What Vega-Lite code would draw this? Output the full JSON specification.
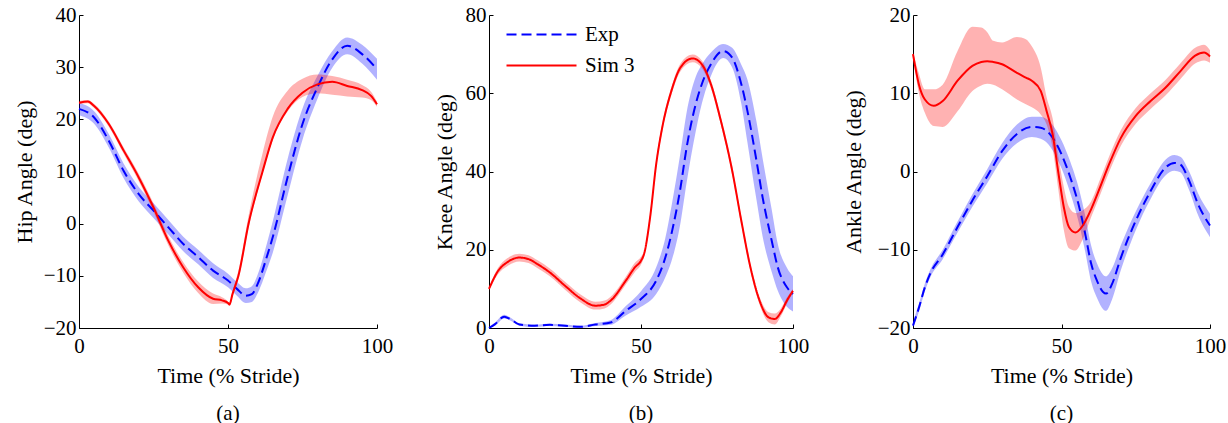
{
  "$schema": "https://vega.github.io/schema/vega-lite/v6.json",
  "padding": {"left": 13, "top": 4, "right": 5, "bottom": 5},
  "background": "white",
  "spacing": 33,
  "config": {
    "font": "Liberation Serif",
    "view": {"stroke": null},
    "axis": {
      "labelFont": "Liberation Serif", "titleFont": "Liberation Serif",
      "labelFontSize": 21, "titleFontSize": 22, "titleFontWeight": "normal",
      "labelColor": "#000", "titleColor": "#000", "domainColor": "#000", "tickColor": "#000",
      "domainWidth": 1, "tickWidth": 1, "grid": false, "tickSize": -4, "labelPadding": 7, "labelFlush": false
    },
    "axisX": {"titlePadding": 9, "labelPadding": 11},
    "axisY": {"titlePadding": 6},
    "title": {"font": "Liberation Serif", "fontSize": 21, "fontWeight": "normal", "color": "#000"},
    "legend": {"labelFont": "Liberation Serif", "labelFontSize": 21, "labelColor": "#000"}
  },
  "datasets": {
    "hip": [
      {"s": "Exp", "x": 0, "y": 22.0, "lo": 20.8, "hi": 23.2},
      {"s": "Exp", "x": 5, "y": 20.4, "lo": 19.2, "hi": 21.6},
      {"s": "Exp", "x": 10, "y": 15.9, "lo": 14.6, "hi": 17.2},
      {"s": "Exp", "x": 15, "y": 10.1, "lo": 8.7, "hi": 11.5},
      {"s": "Exp", "x": 20, "y": 5.7, "lo": 4.3, "hi": 7.1},
      {"s": "Exp", "x": 25, "y": 2.5, "lo": 1.1, "hi": 3.9},
      {"s": "Exp", "x": 30, "y": -0.7, "lo": -2.1, "hi": 0.7},
      {"s": "Exp", "x": 35, "y": -3.9, "lo": -5.3, "hi": -2.5},
      {"s": "Exp", "x": 40, "y": -6.4, "lo": -7.8, "hi": -5.0},
      {"s": "Exp", "x": 45, "y": -9.0, "lo": -10.4, "hi": -7.6},
      {"s": "Exp", "x": 50, "y": -10.9, "lo": -12.2, "hi": -9.6},
      {"s": "Exp", "x": 53, "y": -12.5, "lo": -13.8, "hi": -11.2},
      {"s": "Exp", "x": 56, "y": -13.8, "lo": -15.2, "hi": -12.4},
      {"s": "Exp", "x": 58, "y": -13.5, "lo": -15.0, "hi": -12.0},
      {"s": "Exp", "x": 60, "y": -11.5, "lo": -13.3, "hi": -9.7},
      {"s": "Exp", "x": 63, "y": -6.4, "lo": -8.9, "hi": -3.9},
      {"s": "Exp", "x": 65, "y": -2.6, "lo": -5.6, "hi": 0.4},
      {"s": "Exp", "x": 70, "y": 8.9, "lo": 5.4, "hi": 12.4},
      {"s": "Exp", "x": 75, "y": 19.1, "lo": 16.1, "hi": 22.1},
      {"s": "Exp", "x": 80, "y": 26.1, "lo": 23.9, "hi": 28.3},
      {"s": "Exp", "x": 85, "y": 31.5, "lo": 29.9, "hi": 33.1},
      {"s": "Exp", "x": 90, "y": 34.1, "lo": 32.5, "hi": 35.7},
      {"s": "Exp", "x": 95, "y": 32.5, "lo": 30.7, "hi": 34.3},
      {"s": "Exp", "x": 100, "y": 29.6, "lo": 27.6, "hi": 31.6},
      {"s": "Sim 3", "x": 0, "y": 23.2, "lo": 22.9, "hi": 23.5},
      {"s": "Sim 3", "x": 3, "y": 23.4, "lo": 23.1, "hi": 23.7},
      {"s": "Sim 3", "x": 5, "y": 22.6, "lo": 22.2, "hi": 23.0},
      {"s": "Sim 3", "x": 10, "y": 19.1, "lo": 18.6, "hi": 19.6},
      {"s": "Sim 3", "x": 15, "y": 14.0, "lo": 13.4, "hi": 14.6},
      {"s": "Sim 3", "x": 20, "y": 8.9, "lo": 8.2, "hi": 9.6},
      {"s": "Sim 3", "x": 25, "y": 3.1, "lo": 2.3, "hi": 3.9},
      {"s": "Sim 3", "x": 30, "y": -3.3, "lo": -4.2, "hi": -2.4},
      {"s": "Sim 3", "x": 35, "y": -8.4, "lo": -9.4, "hi": -7.4},
      {"s": "Sim 3", "x": 40, "y": -12.2, "lo": -13.3, "hi": -11.1},
      {"s": "Sim 3", "x": 45, "y": -14.4, "lo": -15.4, "hi": -13.4},
      {"s": "Sim 3", "x": 48, "y": -14.7, "lo": -15.3, "hi": -14.1},
      {"s": "Sim 3", "x": 50, "y": -15.2, "lo": -15.5, "hi": -14.9},
      {"s": "Sim 3", "x": 50.5, "y": -15.5, "lo": -15.8, "hi": -15.2},
      {"s": "Sim 3", "x": 51.5, "y": -13.5, "lo": -14.0, "hi": -13.0},
      {"s": "Sim 3", "x": 53.5, "y": -10.0, "lo": -10.6, "hi": -9.0},
      {"s": "Sim 3", "x": 56.9, "y": 0.0, "lo": -0.8, "hi": 1.5},
      {"s": "Sim 3", "x": 61.6, "y": 10.0, "lo": 9.5, "hi": 13.5},
      {"s": "Sim 3", "x": 65, "y": 16.5, "lo": 16.0, "hi": 20.5},
      {"s": "Sim 3", "x": 70, "y": 22.0, "lo": 21.5, "hi": 25.5},
      {"s": "Sim 3", "x": 75, "y": 25.1, "lo": 24.3, "hi": 27.8},
      {"s": "Sim 3", "x": 80, "y": 26.7, "lo": 25.0, "hi": 28.6},
      {"s": "Sim 3", "x": 85, "y": 27.2, "lo": 24.7, "hi": 28.3},
      {"s": "Sim 3", "x": 90, "y": 26.4, "lo": 24.4, "hi": 27.6},
      {"s": "Sim 3", "x": 95, "y": 25.6, "lo": 24.2, "hi": 26.6},
      {"s": "Sim 3", "x": 98, "y": 24.5, "lo": 23.7, "hi": 25.3},
      {"s": "Sim 3", "x": 100, "y": 22.9, "lo": 22.4, "hi": 23.4}
    ],
    "knee": [
      {"s": "Exp", "x": 0, "y": 0.0, "lo": 0.0, "hi": 0.3},
      {"s": "Exp", "x": 2, "y": 1.0, "lo": 0.6, "hi": 1.4},
      {"s": "Exp", "x": 5, "y": 2.9, "lo": 2.4, "hi": 3.4},
      {"s": "Exp", "x": 7, "y": 2.3, "lo": 1.9, "hi": 2.7},
      {"s": "Exp", "x": 10, "y": 0.9, "lo": 0.6, "hi": 1.2},
      {"s": "Exp", "x": 15, "y": 0.6, "lo": 0.3, "hi": 0.9},
      {"s": "Exp", "x": 20, "y": 0.8, "lo": 0.5, "hi": 1.1},
      {"s": "Exp", "x": 25, "y": 0.6, "lo": 0.3, "hi": 0.9},
      {"s": "Exp", "x": 30, "y": 0.3, "lo": 0.0, "hi": 0.6},
      {"s": "Exp", "x": 35, "y": 0.9, "lo": 0.5, "hi": 1.3},
      {"s": "Exp", "x": 40, "y": 1.4, "lo": 0.8, "hi": 2.0},
      {"s": "Exp", "x": 45, "y": 4.4, "lo": 3.2, "hi": 5.6},
      {"s": "Exp", "x": 50, "y": 7.4, "lo": 5.4, "hi": 9.4},
      {"s": "Exp", "x": 55, "y": 12.1, "lo": 8.7, "hi": 15.5},
      {"s": "Exp", "x": 58, "y": 18.0, "lo": 13.0, "hi": 23.0},
      {"s": "Exp", "x": 60, "y": 24.0, "lo": 17.0, "hi": 31.0},
      {"s": "Exp", "x": 63, "y": 35.9, "lo": 26.9, "hi": 44.9},
      {"s": "Exp", "x": 65, "y": 46.1, "lo": 37.1, "hi": 55.1},
      {"s": "Exp", "x": 68, "y": 57.2, "lo": 50.2, "hi": 64.2},
      {"s": "Exp", "x": 70, "y": 62.3, "lo": 57.3, "hi": 67.3},
      {"s": "Exp", "x": 73, "y": 67.4, "lo": 64.4, "hi": 70.4},
      {"s": "Exp", "x": 77, "y": 70.8, "lo": 69.0, "hi": 72.6},
      {"s": "Exp", "x": 80, "y": 69.1, "lo": 66.6, "hi": 71.6},
      {"s": "Exp", "x": 83, "y": 62.3, "lo": 57.3, "hi": 67.3},
      {"s": "Exp", "x": 85, "y": 55.5, "lo": 47.5, "hi": 63.5},
      {"s": "Exp", "x": 88, "y": 42.7, "lo": 32.7, "hi": 52.7},
      {"s": "Exp", "x": 90, "y": 33.4, "lo": 23.4, "hi": 43.4},
      {"s": "Exp", "x": 93, "y": 22.3, "lo": 14.3, "hi": 30.3},
      {"s": "Exp", "x": 95, "y": 15.5, "lo": 9.5, "hi": 21.5},
      {"s": "Exp", "x": 98, "y": 10.4, "lo": 5.4, "hi": 15.4},
      {"s": "Exp", "x": 100, "y": 8.7, "lo": 4.2, "hi": 13.2},
      {"s": "Sim 3", "x": 0, "y": 10.0, "lo": 9.5, "hi": 10.5},
      {"s": "Sim 3", "x": 3, "y": 14.6, "lo": 13.8, "hi": 15.4},
      {"s": "Sim 3", "x": 6, "y": 16.8, "lo": 15.8, "hi": 17.8},
      {"s": "Sim 3", "x": 10, "y": 18.0, "lo": 17.0, "hi": 19.0},
      {"s": "Sim 3", "x": 13, "y": 17.6, "lo": 16.6, "hi": 18.6},
      {"s": "Sim 3", "x": 16, "y": 16.3, "lo": 15.3, "hi": 17.3},
      {"s": "Sim 3", "x": 20, "y": 14.2, "lo": 13.2, "hi": 15.2},
      {"s": "Sim 3", "x": 25, "y": 10.8, "lo": 9.8, "hi": 11.8},
      {"s": "Sim 3", "x": 30, "y": 7.6, "lo": 6.6, "hi": 8.6},
      {"s": "Sim 3", "x": 35, "y": 5.7, "lo": 4.7, "hi": 6.7},
      {"s": "Sim 3", "x": 38, "y": 6.0, "lo": 5.0, "hi": 7.0},
      {"s": "Sim 3", "x": 40, "y": 7.0, "lo": 6.0, "hi": 8.0},
      {"s": "Sim 3", "x": 45, "y": 12.1, "lo": 11.1, "hi": 13.1},
      {"s": "Sim 3", "x": 48, "y": 15.5, "lo": 14.3, "hi": 16.7},
      {"s": "Sim 3", "x": 50, "y": 17.2, "lo": 16.2, "hi": 18.2},
      {"s": "Sim 3", "x": 51, "y": 18.9, "lo": 18.1, "hi": 19.7},
      {"s": "Sim 3", "x": 53, "y": 28.3, "lo": 27.3, "hi": 29.3},
      {"s": "Sim 3", "x": 55, "y": 41.9, "lo": 40.9, "hi": 42.9},
      {"s": "Sim 3", "x": 57, "y": 51.3, "lo": 50.3, "hi": 52.3},
      {"s": "Sim 3", "x": 60, "y": 60.6, "lo": 59.6, "hi": 61.6},
      {"s": "Sim 3", "x": 63, "y": 66.6, "lo": 65.6, "hi": 67.6},
      {"s": "Sim 3", "x": 67, "y": 68.9, "lo": 67.9, "hi": 69.9},
      {"s": "Sim 3", "x": 70, "y": 67.4, "lo": 66.4, "hi": 68.4},
      {"s": "Sim 3", "x": 73, "y": 62.3, "lo": 61.3, "hi": 63.3},
      {"s": "Sim 3", "x": 76, "y": 53.8, "lo": 52.8, "hi": 54.8},
      {"s": "Sim 3", "x": 80, "y": 40.2, "lo": 39.2, "hi": 41.2},
      {"s": "Sim 3", "x": 83, "y": 27.4, "lo": 26.4, "hi": 28.4},
      {"s": "Sim 3", "x": 86, "y": 15.5, "lo": 14.5, "hi": 16.5},
      {"s": "Sim 3", "x": 89, "y": 7.0, "lo": 6.0, "hi": 8.0},
      {"s": "Sim 3", "x": 92, "y": 2.7, "lo": 1.4, "hi": 4.0},
      {"s": "Sim 3", "x": 94, "y": 2.3, "lo": 0.9, "hi": 3.7},
      {"s": "Sim 3", "x": 96, "y": 4.0, "lo": 3.0, "hi": 5.0},
      {"s": "Sim 3", "x": 98, "y": 7.0, "lo": 6.2, "hi": 7.8},
      {"s": "Sim 3", "x": 100, "y": 9.5, "lo": 9.0, "hi": 10.0}
    ],
    "ankle": [
      {"s": "Exp", "x": 0, "y": -19.7, "lo": -20.0, "hi": -19.2},
      {"s": "Exp", "x": 2, "y": -17.4, "lo": -17.9, "hi": -16.9},
      {"s": "Exp", "x": 4, "y": -14.8, "lo": -15.3, "hi": -14.3},
      {"s": "Exp", "x": 6, "y": -12.9, "lo": -13.4, "hi": -12.4},
      {"s": "Exp", "x": 10, "y": -10.6, "lo": -11.2, "hi": -10.0},
      {"s": "Exp", "x": 15, "y": -7.1, "lo": -7.8, "hi": -6.4},
      {"s": "Exp", "x": 20, "y": -3.7, "lo": -4.5, "hi": -2.9},
      {"s": "Exp", "x": 25, "y": -0.6, "lo": -1.5, "hi": 0.3},
      {"s": "Exp", "x": 30, "y": 2.6, "lo": 1.6, "hi": 3.6},
      {"s": "Exp", "x": 35, "y": 4.8, "lo": 3.6, "hi": 6.0},
      {"s": "Exp", "x": 40, "y": 5.7, "lo": 4.4, "hi": 7.0},
      {"s": "Exp", "x": 43, "y": 5.6, "lo": 4.2, "hi": 7.0},
      {"s": "Exp", "x": 45, "y": 5.2, "lo": 3.7, "hi": 6.7},
      {"s": "Exp", "x": 50, "y": 2.2, "lo": 0.4, "hi": 4.0},
      {"s": "Exp", "x": 53, "y": -0.8, "lo": -2.8, "hi": 1.2},
      {"s": "Exp", "x": 56, "y": -4.6, "lo": -6.8, "hi": -2.4},
      {"s": "Exp", "x": 58, "y": -8.0, "lo": -10.3, "hi": -5.7},
      {"s": "Exp", "x": 60, "y": -11.8, "lo": -14.1, "hi": -9.5},
      {"s": "Exp", "x": 62, "y": -14.0, "lo": -16.2, "hi": -11.8},
      {"s": "Exp", "x": 64, "y": -15.4, "lo": -17.6, "hi": -13.2},
      {"s": "Exp", "x": 65, "y": -15.6, "lo": -17.8, "hi": -13.4},
      {"s": "Exp", "x": 67, "y": -14.4, "lo": -16.4, "hi": -12.4},
      {"s": "Exp", "x": 70, "y": -11.0, "lo": -12.6, "hi": -9.4},
      {"s": "Exp", "x": 75, "y": -6.3, "lo": -7.5, "hi": -5.1},
      {"s": "Exp", "x": 80, "y": -2.5, "lo": -3.5, "hi": -1.5},
      {"s": "Exp", "x": 85, "y": 0.5, "lo": -0.5, "hi": 1.5},
      {"s": "Exp", "x": 88, "y": 1.1, "lo": 0.1, "hi": 2.1},
      {"s": "Exp", "x": 90, "y": 0.9, "lo": -0.1, "hi": 1.9},
      {"s": "Exp", "x": 93, "y": -1.2, "lo": -2.4, "hi": 0.0},
      {"s": "Exp", "x": 96, "y": -4.2, "lo": -5.6, "hi": -2.8},
      {"s": "Exp", "x": 100, "y": -6.9, "lo": -8.4, "hi": -5.4},
      {"s": "Sim 3", "x": 0, "y": 15.0, "lo": 14.7, "hi": 15.3},
      {"s": "Sim 3", "x": 2, "y": 11.1, "lo": 10.0, "hi": 12.5},
      {"s": "Sim 3", "x": 4, "y": 9.2, "lo": 7.5, "hi": 10.5},
      {"s": "Sim 3", "x": 7, "y": 8.4, "lo": 5.8, "hi": 10.5},
      {"s": "Sim 3", "x": 10, "y": 9.0, "lo": 5.7, "hi": 11.1},
      {"s": "Sim 3", "x": 15, "y": 11.6, "lo": 7.7, "hi": 15.4},
      {"s": "Sim 3", "x": 20, "y": 13.5, "lo": 10.3, "hi": 18.5},
      {"s": "Sim 3", "x": 23, "y": 14.0, "lo": 11.0, "hi": 18.4},
      {"s": "Sim 3", "x": 25, "y": 14.1, "lo": 11.2, "hi": 17.8},
      {"s": "Sim 3", "x": 27, "y": 14.0, "lo": 11.1, "hi": 16.7},
      {"s": "Sim 3", "x": 30, "y": 13.7, "lo": 10.5, "hi": 16.5},
      {"s": "Sim 3", "x": 35, "y": 12.6, "lo": 9.2, "hi": 17.2},
      {"s": "Sim 3", "x": 38, "y": 12.0, "lo": 8.6, "hi": 16.9},
      {"s": "Sim 3", "x": 40, "y": 11.6, "lo": 8.2, "hi": 16.0},
      {"s": "Sim 3", "x": 43, "y": 10.3, "lo": 7.3, "hi": 13.3},
      {"s": "Sim 3", "x": 45, "y": 7.7, "lo": 6.0, "hi": 9.5},
      {"s": "Sim 3", "x": 47, "y": 4.8, "lo": 3.0, "hi": 6.8},
      {"s": "Sim 3", "x": 49, "y": -0.3, "lo": -2.5, "hi": 1.8},
      {"s": "Sim 3", "x": 50.8, "y": -4.6, "lo": -7.5, "hi": -2.0},
      {"s": "Sim 3", "x": 52.5, "y": -7.1, "lo": -9.8, "hi": -4.5},
      {"s": "Sim 3", "x": 54.7, "y": -7.8, "lo": -10.1, "hi": -5.3},
      {"s": "Sim 3", "x": 57, "y": -7.0, "lo": -8.8, "hi": -5.0},
      {"s": "Sim 3", "x": 60, "y": -4.8, "lo": -5.8, "hi": -3.8},
      {"s": "Sim 3", "x": 63, "y": -2.0, "lo": -3.0, "hi": -1.0},
      {"s": "Sim 3", "x": 66, "y": 0.9, "lo": -0.1, "hi": 1.9},
      {"s": "Sim 3", "x": 70, "y": 4.3, "lo": 3.3, "hi": 5.3},
      {"s": "Sim 3", "x": 75, "y": 7.1, "lo": 6.1, "hi": 8.1},
      {"s": "Sim 3", "x": 80, "y": 9.0, "lo": 8.0, "hi": 10.0},
      {"s": "Sim 3", "x": 85, "y": 10.7, "lo": 9.7, "hi": 11.7},
      {"s": "Sim 3", "x": 90, "y": 12.8, "lo": 11.8, "hi": 13.8},
      {"s": "Sim 3", "x": 95, "y": 14.8, "lo": 13.8, "hi": 15.8},
      {"s": "Sim 3", "x": 98, "y": 15.2, "lo": 14.2, "hi": 16.2},
      {"s": "Sim 3", "x": 100, "y": 14.7, "lo": 13.9, "hi": 15.5}
    ]
  },
  "resolve": {"scale": {"color": "independent", "strokeDash": "independent"}, "legend": {"color": "independent", "strokeDash": "independent"}},
  "hconcat": [
    {
      "spacing": 40,
      "resolve": {"scale": {"color": "independent", "strokeDash": "independent"}, "legend": {"color": "independent", "strokeDash": "independent"}},
      "hconcat": [
        {
          "width": 298, "height": 313,
          "title": {"text": "(a)", "orient": "bottom", "offset": 17},
          "data": {"name": "hip"},
          "encoding": {
            "x": {"field": "x", "type": "quantitative", "scale": {"domain": [0, 100], "nice": false}, "axis": {"values": [0, 50, 100], "title": "Time (% Stride)"}}
          },
          "layer": [
            {"transform": [{"filter": "datum.s === 'Exp'"}], "mark": {"type": "area", "interpolate": "monotone", "color": "#0000ff", "opacity": 0.3},
             "encoding": {"y": {"field": "lo", "type": "quantitative", "scale": {"domain": [-20, 40], "nice": false}, "axis": {"values": [-20, -10, 0, 10, 20, 30, 40], "title": "Hip Angle (deg)", "titlePadding": 7}}, "y2": {"field": "hi"}}},
            {"transform": [{"filter": "datum.s === 'Sim 3'"}], "mark": {"type": "area", "interpolate": "monotone", "color": "#ff0000", "opacity": 0.3},
             "encoding": {"y": {"field": "lo", "type": "quantitative"}, "y2": {"field": "hi"}}},
            {"transform": [{"filter": "datum.s === 'Exp'"}], "mark": {"type": "line", "interpolate": "monotone", "color": "#0000ff", "strokeWidth": 2, "strokeDash": [10, 5]},
             "encoding": {"y": {"field": "y", "type": "quantitative"}}},
            {"transform": [{"filter": "datum.s === 'Sim 3'"}], "mark": {"type": "line", "interpolate": "monotone", "color": "#ff0000", "strokeWidth": 2},
             "encoding": {"y": {"field": "y", "type": "quantitative"}}}
          ]
        },
        {
          "width": 304, "height": 313,
          "title": {"text": "(b)", "orient": "bottom", "offset": 17},
          "data": {"name": "knee"},
          "encoding": {
            "x": {"field": "x", "type": "quantitative", "scale": {"domain": [0, 100], "nice": false}, "axis": {"values": [0, 50, 100], "title": "Time (% Stride)"}}
          },
          "layer": [
            {"transform": [{"filter": "datum.s === 'Exp'"}], "mark": {"type": "area", "interpolate": "monotone", "color": "#0000ff", "opacity": 0.3},
             "encoding": {"y": {"field": "lo", "type": "quantitative", "scale": {"domain": [0, 80], "nice": false}, "axis": {"values": [0, 20, 40, 60, 80], "title": "Knee Angle (deg)", "titlePadding": 9}}, "y2": {"field": "hi"}}},
            {"transform": [{"filter": "datum.s === 'Sim 3'"}], "mark": {"type": "area", "interpolate": "monotone", "color": "#ff0000", "opacity": 0.3},
             "encoding": {"y": {"field": "lo", "type": "quantitative"}, "y2": {"field": "hi"}}},
            {"mark": {"type": "line", "interpolate": "monotone", "strokeWidth": 2},
             "encoding": {
               "y": {"field": "y", "type": "quantitative"},
               "color": {"field": "s", "type": "nominal", "scale": {"domain": ["Exp", "Sim 3"], "range": ["#0000ff", "#ff0000"]},
                 "legend": {"orient": "none", "legendX": 42, "legendY": 9, "title": null, "symbolType": "M-7,0L7,0", "symbolSize": 100, "symbolStrokeWidth": 2, "labelFontSize": 21, "labelOffset": 33, "rowPadding": 9, "padding": 0}},
               "strokeDash": {"field": "s", "type": "nominal", "scale": {"domain": ["Exp", "Sim 3"], "range": [[10, 5], [1, 0]]},
                 "legend": {"orient": "none", "legendX": 42, "legendY": 9, "title": null, "symbolType": "M-7,0L7,0", "symbolSize": 100, "symbolStrokeWidth": 2, "labelFontSize": 21, "labelOffset": 33, "rowPadding": 9, "padding": 0}}
             }}
          ]
        }
      ]
    },
    {
      "width": 297, "height": 313,
      "title": {"text": "(c)", "orient": "bottom", "offset": 17},
      "data": {"name": "ankle"},
      "encoding": {
        "x": {"field": "x", "type": "quantitative", "scale": {"domain": [0, 100], "nice": false}, "axis": {"values": [0, 50, 100], "title": "Time (% Stride)"}}
      },
      "layer": [
        {"transform": [{"filter": "datum.s === 'Exp'"}], "mark": {"type": "area", "interpolate": "monotone", "color": "#0000ff", "opacity": 0.3},
         "encoding": {"y": {"field": "lo", "type": "quantitative", "scale": {"domain": [-20, 20], "nice": false}, "axis": {"values": [-20, -10, 0, 10, 20], "title": "Ankle Angle (deg)", "titlePadding": 12}}, "y2": {"field": "hi"}}},
        {"transform": [{"filter": "datum.s === 'Sim 3'"}], "mark": {"type": "area", "interpolate": "monotone", "color": "#ff0000", "opacity": 0.3},
         "encoding": {"y": {"field": "lo", "type": "quantitative"}, "y2": {"field": "hi"}}},
        {"transform": [{"filter": "datum.s === 'Exp'"}], "mark": {"type": "line", "interpolate": "monotone", "color": "#0000ff", "strokeWidth": 2, "strokeDash": [10, 5]},
         "encoding": {"y": {"field": "y", "type": "quantitative"}}},
        {"transform": [{"filter": "datum.s === 'Sim 3'"}], "mark": {"type": "line", "interpolate": "monotone", "color": "#ff0000", "strokeWidth": 2},
         "encoding": {"y": {"field": "y", "type": "quantitative"}}}
      ]
    }
  ]
}
